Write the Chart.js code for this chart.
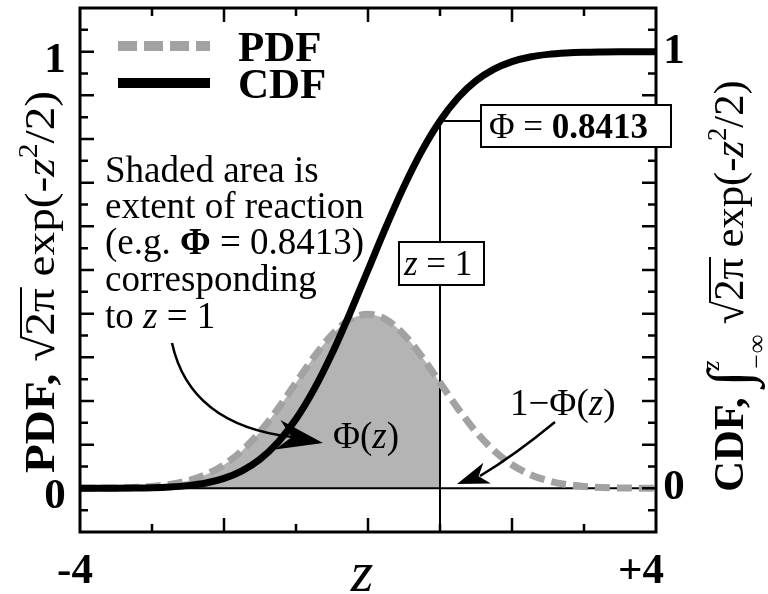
<!DOCTYPE html>
<html>
<head>
<meta charset="utf-8">
<script src="https://cdn.jsdelivr.net/npm/chart.js@4.4.0/dist/chart.umd.min.js"></script>
<style>
  body { margin: 0; background: #fff; }
  #wrap { width: 768px; height: 594px; }
</style>
</head>
<body>
<div id="wrap"><canvas id="chart" width="768" height="594"></canvas></div>
<script>
// z values along the x axis
const zValues = [-4, -3.75, -3.5, -3.25, -3, -2.75, -2.5, -2.25, -2, -1.75, -1.5, -1.25, -1, -0.75, -0.5, -0.25,
                 0, 0.25, 0.5, 0.75, 1, 1.25, 1.5, 1.75, 2, 2.25, 2.5, 2.75, 3, 3.25, 3.5, 3.75, 4];
// dashed grey curve (PDF)
const pdfValues = [0.0001, 0.0004, 0.0009, 0.0020, 0.0044, 0.0091, 0.0175, 0.0317, 0.0540, 0.0863, 0.1295, 0.1826, 0.2420, 0.3011, 0.3521, 0.3867,
                   0.3989, 0.3867, 0.3521, 0.3011, 0.2420, 0.1826, 0.1295, 0.0863, 0.0540, 0.0317, 0.0175, 0.0091, 0.0044, 0.0020, 0.0009, 0.0004, 0.0001];
// solid black curve (CDF)
const cdfValues = [0.0000, 0.0001, 0.0002, 0.0006, 0.0013, 0.0030, 0.0062, 0.0122, 0.0228, 0.0401, 0.0668, 0.1056, 0.1587, 0.2266, 0.3085, 0.4013,
                   0.5000, 0.5987, 0.6915, 0.7734, 0.8413, 0.8944, 0.9332, 0.9599, 0.9772, 0.9878, 0.9938, 0.9970, 0.9987, 0.9994, 0.9998, 0.9999, 1.0000];
const shadeZ = 1;
const shadePhi = 0.8413;

const xMajorTicks = [-2, 0, 2];
const xMinorTicks = [-3, -1, 1, 3];
const yMajorTicks = [0, 0.1, 0.2, 0.3, 0.4, 0.5, 0.6, 0.7, 0.8, 0.9, 1];
const yMinorTicks = [-0.05, 0.05, 0.15, 0.25, 0.35, 0.45, 0.55, 0.65, 0.75, 0.85, 0.95, 1.05];
const xTickValues = [-4, 4];
const xTickLabels = ['-4', '+4'];
const yTickValues = [0, 1];
const yTickLabels = ['0', '1'];

const FAM = '"Liberation Serif", "Times New Roman", serif';
const fnt = (size, style) => (style ? style + ' ' : '') + size + 'px ' + FAM;

function partsWidth(ctx, parts) {
  let w = 0;
  parts.forEach(p => {
    ctx.font = p.font;
    if (p.stack) w += Math.max(ctx.measureText(p.stack[0]).width, ctx.measureText(p.stack[1]).width);
    else w += ctx.measureText(p.t).width;
  });
  return w;
}

function drawParts(ctx, parts, x, y) {
  ctx.textAlign = 'left';
  ctx.textBaseline = 'alphabetic';
  parts.forEach(p => {
    ctx.font = p.font;
    if (p.stack) {
      ctx.fillText(p.stack[0], x, y + p.dy[0]);
      ctx.fillText(p.stack[1], x, y + p.dy[1]);
      x += Math.max(ctx.measureText(p.stack[0]).width, ctx.measureText(p.stack[1]).width);
      return;
    }
    const w = ctx.measureText(p.t).width;
    ctx.fillText(p.t, x, y + (p.dy || 0));
    if (p.over) {
      const asc = ctx.measureText('\u221A').actualBoundingBoxAscent;
      ctx.fillRect(x - 1, y - asc, w + 2, 2);
    }
    x += w;
  });
}

function arrowHead(ctx, tx, ty, fx, fy, len, hw, notch) {
  const d = Math.hypot(tx - fx, ty - fy);
  const ux = (tx - fx) / d, uy = (ty - fy) / d;
  const nx = -uy, ny = ux;
  const bx = tx - ux * len, by = ty - uy * len;
  ctx.beginPath();
  ctx.moveTo(tx, ty);
  ctx.lineTo(bx + nx * hw, by + ny * hw);
  ctx.lineTo(tx - ux * (len - notch), ty - uy * (len - notch));
  ctx.lineTo(bx - nx * hw, by - ny * hw);
  ctx.closePath();
  ctx.fill();
}

// rotated title, stretched along its length to the reference span
function rotatedTitle(ctx, parts, cx, cy, stretch) {
  ctx.save();
  ctx.translate(cx, cy);
  ctx.rotate(-Math.PI / 2);
  ctx.scale(stretch, 1);
  drawParts(ctx, parts, -partsWidth(ctx, parts) / 2, 0);
  ctx.restore();
}

// lines that sit on top of the shading but under the curves
const refLines = {
  id: 'refLines',
  afterDatasetDraw(chart, args) {
    if (args.index !== 2) return;
    const { ctx, chartArea: a, scales: { x, y } } = chart;
    ctx.save();
    ctx.strokeStyle = '#000';
    ctx.lineWidth = 2;
    ctx.beginPath();
    ctx.moveTo(a.left, y.getPixelForValue(0));
    ctx.lineTo(a.right, y.getPixelForValue(0));
    ctx.moveTo(x.getPixelForValue(shadeZ), y.getPixelForValue(shadePhi));
    ctx.lineTo(x.getPixelForValue(shadeZ), a.bottom);
    ctx.moveTo(x.getPixelForValue(shadeZ), y.getPixelForValue(shadePhi));
    ctx.lineTo(481, y.getPixelForValue(shadePhi));
    ctx.stroke();
    ctx.restore();
  }
};

const decorations = {
  id: 'decorations',
  afterDraw(chart) {
    const { ctx, chartArea: a, scales: { x, y } } = chart;
    ctx.save();
    ctx.fillStyle = '#000';
    ctx.strokeStyle = '#000';

    // frame
    ctx.lineWidth = 3;
    ctx.strokeRect(a.left, a.top, a.right - a.left, a.bottom - a.top);

    // inward ticks on all four sides
    ctx.lineWidth = 2.5;
    ctx.beginPath();
    const xt = (v, len) => {
      const px = x.getPixelForValue(v);
      ctx.moveTo(px, a.bottom); ctx.lineTo(px, a.bottom - len);
      ctx.moveTo(px, a.top); ctx.lineTo(px, a.top + len);
    };
    const yt = (v, len) => {
      const py = y.getPixelForValue(v);
      ctx.moveTo(a.left, py); ctx.lineTo(a.left + len, py);
      ctx.moveTo(a.right, py); ctx.lineTo(a.right - len, py);
    };
    xMajorTicks.forEach(v => xt(v, 14));
    xMinorTicks.forEach(v => xt(v, 8));
    yMajorTicks.forEach(v => yt(v, 14));
    yMinorTicks.forEach(v => yt(v, 8));
    ctx.stroke();

    // tick labels
    ctx.font = fnt(43, 'bold');
    ctx.textBaseline = 'alphabetic';
    ctx.textAlign = 'center';
    yTickValues.forEach((v, i) => {
      ctx.fillText(yTickLabels[i], a.left - 25, y.getPixelForValue(v) + 20);
      ctx.fillText(yTickLabels[i], a.right + 18, y.getPixelForValue(v) + 11);
    });
    ctx.fillText(xTickLabels[0], x.getPixelForValue(xTickValues[0]) - 5, 583);
    ctx.textAlign = 'right';
    ctx.fillText(xTickLabels[1], x.getPixelForValue(xTickValues[1]) + 8, 583);

    // x title
    ctx.textAlign = 'center';
    ctx.font = fnt(58, 'italic');
    ctx.fillText('z', (a.left + a.right) / 2 - 6, 591);

    // left y title
    rotatedTitle(ctx, [
      { t: 'PDF, ', font: fnt(43, 'bold') },
      { t: '\u221A', font: fnt(43) },
      { t: '2\u03C0', font: fnt(43), over: true },
      { t: ' exp(-', font: fnt(43) },
      { t: 'z', font: fnt(43, 'italic') },
      { t: '2', font: fnt(27), dy: -17 },
      { t: '/2)', font: fnt(43) }
    ], 54, 282, 1.1);

    // right y title
    rotatedTitle(ctx, [
      { t: 'CDF, ', font: fnt(43, 'bold') },
      { t: '\u222B', font: fnt(60), dy: 6 },
      { stack: ['z', '\u2212\u221E'], font: fnt(26, 'italic'), dy: [-24, 22] },
      { t: ' \u221A', font: fnt(43) },
      { t: '2\u03C0', font: fnt(43), over: true },
      { t: ' exp(-', font: fnt(43) },
      { t: 'z', font: fnt(43, 'italic') },
      { t: '2', font: fnt(27), dy: -17 },
      { t: '/2)', font: fnt(43) }
    ], 743, 286, 0.99);

    // legend
    ctx.lineCap = 'butt';
    ctx.lineWidth = 10;
    ctx.strokeStyle = '#a2a2a2';
    ctx.setLineDash([19, 7]);
    ctx.beginPath(); ctx.moveTo(118, 46); ctx.lineTo(210, 46); ctx.stroke();
    ctx.setLineDash([]);
    ctx.strokeStyle = '#000';
    ctx.beginPath(); ctx.moveTo(118, 83); ctx.lineTo(210, 83); ctx.stroke();
    ctx.font = fnt(43, 'bold');
    ctx.textAlign = 'left';
    ctx.fillText('PDF', 238, 61);
    ctx.fillText('CDF', 238, 98);

    // explanation text
    const T = fnt(37), TB = fnt(37, 'bold'), TI = fnt(37, 'italic');
    drawParts(ctx, [{ t: 'Shaded area is', font: T }], 105, 182);
    drawParts(ctx, [{ t: 'extent of reaction', font: T }], 105, 218);
    drawParts(ctx, [{ t: '(e.g. ', font: T }, { t: '\u03A6', font: TB }, { t: ' = 0.8413)', font: T }], 105, 254);
    drawParts(ctx, [{ t: 'corresponding', font: T }], 105, 291);
    drawParts(ctx, [{ t: 'to ', font: T }, { t: 'z', font: TI }, { t: ' = 1', font: T }], 105, 328);

    drawParts(ctx, [{ t: '\u03A6(', font: T }, { t: 'z', font: TI }, { t: ')', font: T }], 333, 448);
    drawParts(ctx, [{ t: '1\u2212\u03A6(', font: T }, { t: 'z', font: TI }, { t: ')', font: T }], 510, 415);

    // boxes
    ctx.lineWidth = 2;
    ctx.fillStyle = '#fff';
    ctx.fillRect(481, 105, 190, 42);
    ctx.strokeRect(481, 105, 190, 42);
    ctx.fillRect(399, 242, 85, 43);
    ctx.strokeRect(399, 242, 85, 43);
    ctx.fillStyle = '#000';
    drawParts(ctx, [{ t: '\u03A6 = ', font: fnt(35) }, { t: '0.8413', font: fnt(35, 'bold') }], 489, 138);
    drawParts(ctx, [{ t: 'z', font: fnt(35, 'italic') }, { t: ' = 1', font: fnt(35) }], 404, 275);

    // arrows
    ctx.lineWidth = 2.5;
    ctx.beginPath();
    ctx.moveTo(172, 343);
    ctx.quadraticCurveTo(190, 425, 292, 437);
    ctx.stroke();
    arrowHead(ctx, 323, 443, 290, 437, 46, 15, 14);

    ctx.beginPath();
    ctx.moveTo(555, 422);
    ctx.quadraticCurveTo(515, 455, 480, 476);
    ctx.stroke();
    arrowHead(ctx, 457, 484, 482, 475, 32, 11, 9);

    ctx.restore();
  }
};

const pts = vals => zValues.map((z, i) => ({ x: z, y: vals[i] }));

new Chart(document.getElementById('chart'), {
  type: 'line',
  data: {
    datasets: [
      {
        label: 'CDF',
        data: pts(cdfValues),
        borderColor: '#000',
        borderWidth: 7,
        pointRadius: 0,
        cubicInterpolationMode: 'monotone',
        fill: false,
        order: 1
      },
      {
        label: 'PDF',
        data: pts(pdfValues),
        borderColor: '#a2a2a2',
        borderWidth: 7,
        borderDash: [15, 7],
        pointRadius: 0,
        cubicInterpolationMode: 'monotone',
        fill: false,
        order: 2
      },
      {
        label: 'shade',
        data: pts(pdfValues).filter(p => p.x <= shadeZ),
        borderWidth: 0,
        borderColor: 'rgba(0,0,0,0)',
        backgroundColor: '#b4b4b4',
        pointRadius: 0,
        cubicInterpolationMode: 'monotone',
        fill: 'origin',
        order: 3
      }
    ]
  },
  options: {
    responsive: false,
    animation: false,
    devicePixelRatio: 1,
    layout: { padding: { left: 80, right: 112, top: 8, bottom: 62 } },
    plugins: { legend: { display: false }, tooltip: { enabled: false } },
    scales: {
      x: { type: 'linear', min: -4, max: 4, display: false },
      y: { min: -0.1, max: 1.1, display: false }
    }
  },
  plugins: [refLines, decorations]
});
</script>
</body>
</html>
